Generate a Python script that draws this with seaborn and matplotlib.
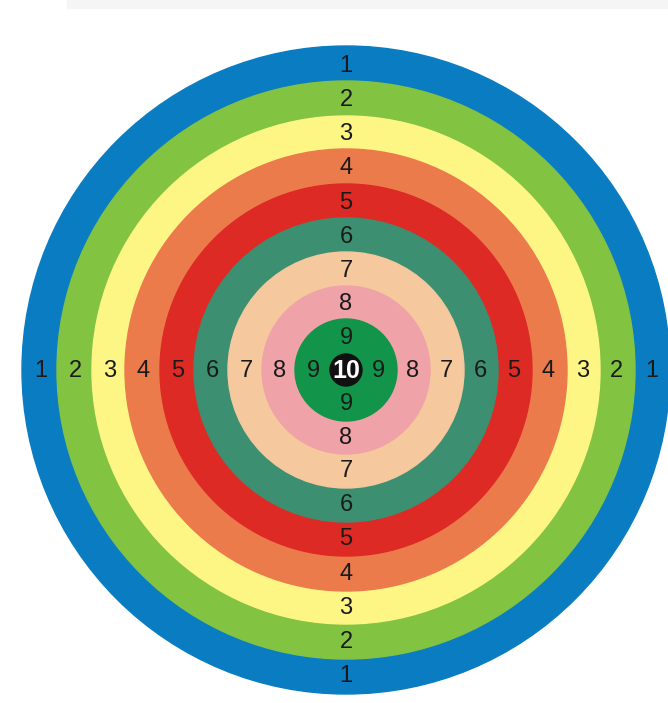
import matplotlib.pyplot as plt
import seaborn as sns
from matplotlib.patches import Circle

# ring scores, outer radius (px) and colours, outermost first
scores = [1, 2, 3, 4, 5, 6, 7, 8, 9, 10]
radii = [324, 289, 254, 221, 186, 152, 118, 84, 51, 16]
ring_colors = [
    "#0a7dc2", "#82c341", "#fdf584", "#ec7b4c", "#de2a24",
    "#3d8f71", "#f5c89d", "#efa2a8", "#12944a", "#111111"
]

center_x = 346
center_y = 370

sns.set_theme(style="white")
plt.rcParams['font.family'] = ['Liberation Sans Narrow', 'Liberation Sans',
                               'DejaVu Sans']

fig = plt.figure(figsize=(6.68, 7.03), dpi=100)
ax = fig.add_axes([0, 0, 1, 1])
ax.set_xlim(0, 668)
ax.set_ylim(703, 0)
ax.set_aspect("equal")
ax.axis("off")

# light strip along the top edge
ax.axhspan(0, 8, xmin=0.1, xmax=1, color="#f5f5f5", zorder=0)

palette = sns.color_palette(ring_colors)

for score, r, col in zip(scores, radii, palette):
    ax.add_patch(Circle((center_x, center_y), r, color=col, zorder=1))

# labels in the middle of each ring, on the four axes
for i, score in enumerate(scores):
    if score == 10:
        ax.text(center_x, center_y + 1, "10", color="white", fontsize=18,
                fontweight="bold", ha="center", va="center", zorder=3)
        continue
    mid = (radii[i] + radii[i + 1]) / 2 - 1
    for dx, dy in [(0, -1), (0, 1), (-1, 0), (1, 0)]:
        ax.text(center_x + dx * mid, center_y + dy * mid + 1, str(score),
                color="#1a1a1a", fontsize=17, ha="center", va="center",
                zorder=3)

fig.savefig("out.png", dpi=100)
plt.close()
